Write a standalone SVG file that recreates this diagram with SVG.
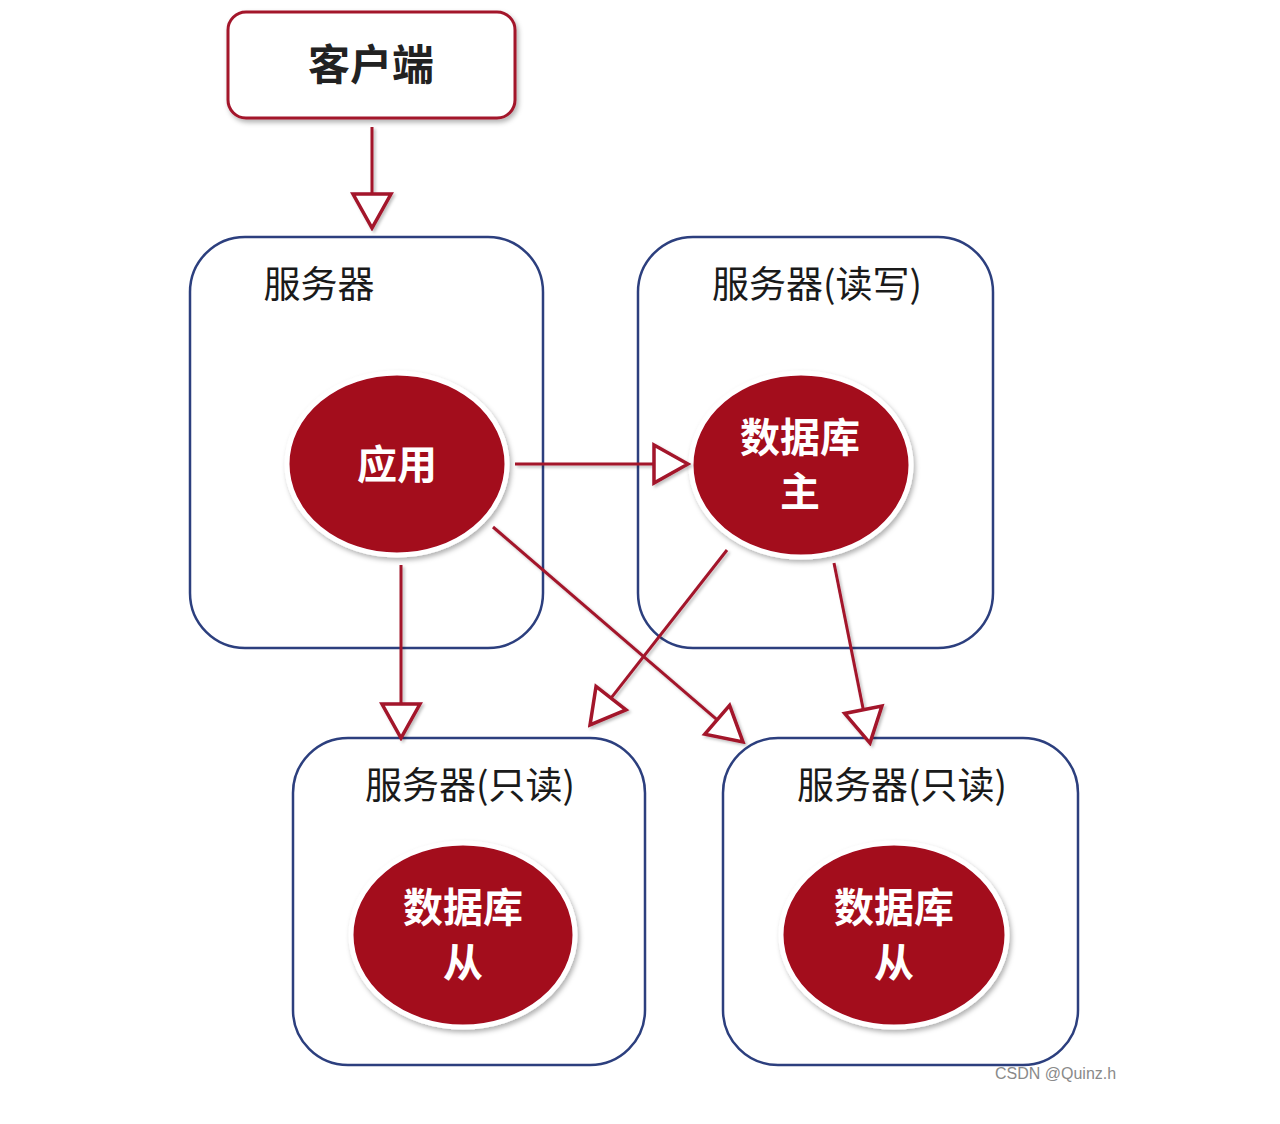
<svg xmlns="http://www.w3.org/2000/svg" width="1280" height="1124" viewBox="0 0 1280 1124">
<defs>
<filter id="sh" x="-20%" y="-20%" width="140%" height="140%">
<feDropShadow dx="2" dy="3" stdDeviation="2.5" flood-color="#000" flood-opacity="0.3"/>
</filter>
<filter id="lsh" filterUnits="userSpaceOnUse" x="0" y="0" width="1280" height="1124">
<feDropShadow dx="2" dy="2" stdDeviation="1.5" flood-color="#000" flood-opacity="0.25"/>
</filter>
<marker id="tri" markerUnits="userSpaceOnUse" viewBox="-3 -23 40 46" markerWidth="40" markerHeight="46" refX="0" refY="0" orient="auto">
<path d="M0,-19 L34,0 L0,19 Z" fill="#fff" stroke="#a3142c" stroke-width="3.5" stroke-linejoin="miter"/>
</marker>
</defs>
<style>
.srv{fill:none;stroke:#2c3f7e;stroke-width:2.5}
.lbl{font-family:"Noto Sans CJK SC","Noto Sans",sans-serif;font-size:37px;fill:#1a1a1a;text-anchor:middle}
.db{fill:#a3081f;stroke:#fff;stroke-width:5;filter:url(#sh)}
.dbt{font-family:"Noto Sans CJK SC","Noto Sans",sans-serif;font-size:40px;font-weight:bold;fill:#fff;text-anchor:middle}
.cn{fill:none;stroke:#a3142c;stroke-width:3;marker-end:url(#tri)}
</style>
<rect width="1280" height="1124" fill="#fff"/>

<g id="srv1">
<rect class="srv" x="190" y="237" width="353" height="411" rx="55"/>
<text class="lbl" x="319" y="298">服务器</text>
</g>
<g id="srv2">
<rect class="srv" x="638" y="237" width="355" height="411" rx="55"/>
<text class="lbl" x="817" y="298">服务器(读写)</text>
</g>
<g id="srv3">
<rect class="srv" x="293" y="738" width="352" height="327" rx="55"/>
<text class="lbl" x="470" y="799">服务器(只读)</text>
</g>
<g id="srv4">
<rect class="srv" x="723" y="738" width="355" height="327" rx="55"/>
<text class="lbl" x="902" y="799">服务器(只读)</text>
</g>

<g id="client">
<rect x="228" y="12" width="287" height="106" rx="18" fill="#fff" stroke="#a3142c" stroke-width="3" filter="url(#sh)"/>
<text x="371" y="80" font-family="Noto Sans CJK SC,sans-serif" font-size="42" font-weight="bold" fill="#222" text-anchor="middle">客户端</text>
</g>

<g id="app">
<ellipse class="db" cx="397" cy="464" rx="110" ry="91"/>
<text class="dbt" x="397" y="479">应用</text>
</g>
<g id="master">
<ellipse class="db" cx="801" cy="465" rx="110" ry="92"/>
<text class="dbt" x="800" y="452">数据库</text>
<text class="dbt" x="800" y="506">主</text>
</g>
<g id="slave1">
<ellipse class="db" cx="463" cy="935" rx="112" ry="92"/>
<text class="dbt" x="463" y="922">数据库</text>
<text class="dbt" x="463" y="977">从</text>
</g>
<g id="slave2">
<ellipse class="db" cx="894" cy="935" rx="113" ry="92"/>
<text class="dbt" x="894" y="922">数据库</text>
<text class="dbt" x="894" y="977">从</text>
</g>

<g id="connectors" filter="url(#lsh)">
<line class="cn" x1="372" y1="127" x2="372" y2="194"/>
<line class="cn" x1="515" y1="464" x2="654" y2="464"/>
<line class="cn" x1="401" y1="565" x2="401" y2="704"/>
<line class="cn" x1="493" y1="527" x2="717.2" y2="719.8"/>
<line class="cn" x1="727" y1="550" x2="611" y2="698.2"/>
<line class="cn" x1="834" y1="563" x2="863.3" y2="709.7"/>
</g>

<text x="995" y="1079" font-family="Liberation Sans,Arial,sans-serif" font-size="16" fill="#8a8a8a">CSDN @Quinz.h</text>
</svg>
